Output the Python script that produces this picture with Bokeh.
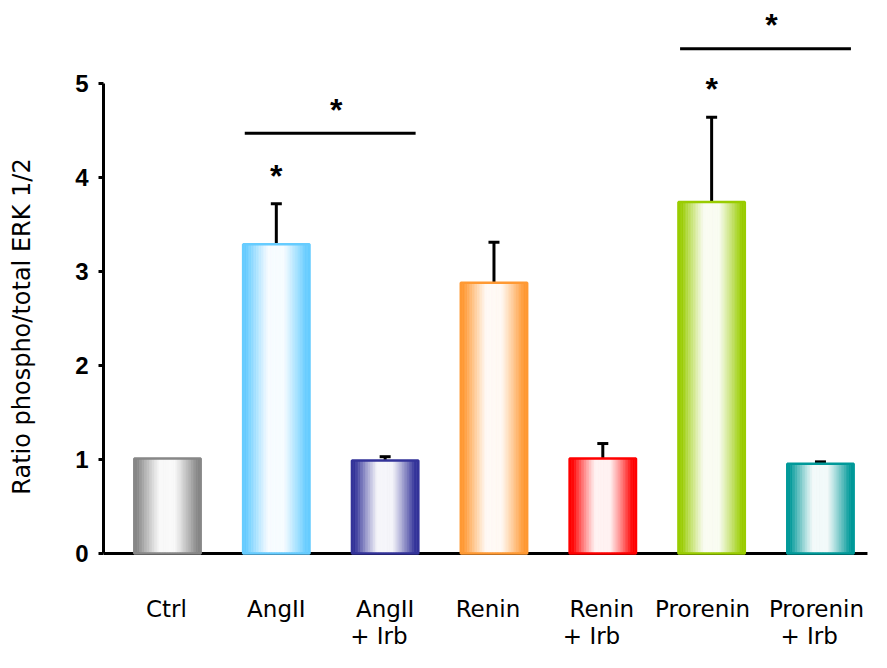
import numpy as np
from bokeh.plotting import figure
from bokeh.models import (Range1d, FixedTicker, ColumnDataSource, Whisker,
                          TeeHead, LabelSet)
from bokeh.core.properties import value
from bokeh.embed import file_html
from bokeh.resources import INLINE

# ---------------- data ----------------
categories = ["Ctrl", "AngII", "AngII + Irb", "Renin", "Renin + Irb",
              "Prorenin", "Prorenin + Irb"]
label_line1 = ["Ctrl", "AngII", "AngII", "Renin", "Renin", "Prorenin", "Prorenin"]
label_line2 = ["", "", "+ Irb", "", "+ Irb", "", "+ Irb"]
means = [1.01, 3.29, 0.99, 2.88, 1.01, 3.74, 0.955]
upper_err = [1.01, 3.72, 1.03, 3.31, 1.17, 4.64, 0.975]
colors = ["#878787", "#66CCFF", "#333399", "#FF9933", "#FF0000", "#99CC00", "#009999"]
y_ticks = [0, 1, 2, 3, 4, 5]
star_over = [1, 5]                      # significant vs control
brackets = [(1, 2, 4.47), (5, 6, 5.37)]  # significant pairs and bracket height

# ---------------- figure ----------------
W, H = 871, 652
X0, X1 = -0.588, 6.469
p = figure(width=W, height=H, output_backend="svg", toolbar_location=None,
           x_range=Range1d(X0, X1), y_range=Range1d(-1.053, 5.883),
           x_axis_location=None, min_border=0, min_border_left=103)
p.outline_line_color = None
p.xgrid.visible = False
p.ygrid.visible = False
p.background_fill_color = "white"

# y axis
p.yaxis.ticker = FixedTicker(ticks=y_ticks)
p.yaxis.bounds = (0, 5)
p.yaxis.axis_line_width = 3
p.yaxis.major_tick_line_width = 3
p.yaxis.major_tick_in = 0
p.yaxis.major_tick_out = 5
p.yaxis.minor_tick_line_color = None
p.yaxis.major_label_text_font = "Liberation Sans"
p.yaxis.major_label_text_font_style = "bold"
p.yaxis.major_label_text_font_size = "24px"
p.yaxis.major_label_text_color = "black"
p.yaxis.major_label_standoff = 10
p.yaxis.axis_label = "Ratio phospho/total ERK 1/2"
p.yaxis.axis_label_text_font = "DejaVu Sans"
p.yaxis.axis_label_text_font_style = "normal"
p.yaxis.axis_label_text_font_size = "24px"
p.yaxis.axis_label_text_color = "black"
p.yaxis.axis_label_standoff = 36

# x axis line (baseline at 0)
p.segment(x0=[X0], x1=[len(categories) - 1 + 0.432], y0=[0], y1=[0],
          line_width=3, line_color="black")

# ---------------- gradient bars ----------------
def hex2rgb(h):
    h = h.lstrip("#")
    return tuple(int(h[i:i + 2], 16) for i in (0, 2, 4))

N = 40
bw = 0.61
sx, stop, scol = [], [], []
for i, (m, c) in enumerate(zip(means, colors)):
    r, g, b = hex2rgb(c)
    for k in range(N):
        u = (k + 0.5) / N - 0.5
        t = abs(u) * 2
        s = min(max((t - 0.22) / 0.68, 0.0), 1.0)
        f = 0.05 + 0.95 * s ** 1.1
        rr = int(round(255 + (r - 255) * f))
        gg = int(round(255 + (g - 255) * f))
        bb = int(round(255 + (b - 255) * f))
        sx.append(i + u * bw)
        stop.append(m)
        scol.append("#%02x%02x%02x" % (rr, gg, bb))

p.vbar(x=sx, top=stop, bottom=0, width=bw / N, fill_color=scol,
       line_color=scol, line_width=0.6)
p.vbar(x=list(range(len(means))), top=means, bottom=0, width=bw,
       fill_color=None, line_color=colors, line_width=2.5)

# ---------------- error bars ----------------
idx = [i for i in range(len(means)) if upper_err[i] > means[i]]
err_src = ColumnDataSource(dict(x=idx, lo=[means[i] for i in idx],
                                hi=[upper_err[i] for i in idx]))
p.add_layout(Whisker(base="x", lower="lo", upper="hi", source=err_src,
                     line_width=3, line_color="black", lower_head=None,
                     upper_head=TeeHead(size=11, line_width=3, line_color="black")))

# ---------------- significance ----------------
star_font = value("Liberation Sans")
p.text(x=star_over, y=[upper_err[i] + 0.30 for i in star_over], text=["*"] * len(star_over),
       text_font=star_font, text_font_style="bold", text_font_size="32px",
       text_align="center", text_baseline="middle", text_color="black")

p.segment(x0=[a - 0.29 for a, b_, h in brackets], x1=[b_ + 0.28 for a, b_, h in brackets],
          y0=[h for a, b_, h in brackets], y1=[h for a, b_, h in brackets],
          line_width=3, line_color="black")
p.text(x=[(a + b_) / 2 + 0.05 for a, b_, h in brackets], y=[h + 0.25 for a, b_, h in brackets],
       text=["*"] * len(brackets), text_font=star_font, text_font_style="bold",
       text_font_size="32px", text_align="center", text_baseline="middle",
       text_color="black")

# ---------------- category labels ----------------
lab_font = value("DejaVu Sans")
dx1 = [-1, 0, 0, -6, -1, -9, -4]
lab1 = ColumnDataSource(dict(x=list(range(len(categories))), y=[-0.68] * len(categories),
                             text=label_line1, dx=dx1))
p.add_layout(LabelSet(x="x", y="y", text="text", x_offset="dx", source=lab1,
                      text_font=lab_font, text_font_size=value("23px"),
                      text_align="center", text_baseline="alphabetic",
                      text_color="black"))
i2 = [i for i in range(len(categories)) if label_line2[i]]
dx2 = {2: -35, 4: -40, 6: -40}
lab2 = ColumnDataSource(dict(x=i2, y=[-0.96] * len(i2),
                             text=[label_line2[i] for i in i2],
                             dx=[dx2[i] for i in i2]))
p.add_layout(LabelSet(x="x", y="y", text="text", x_offset="dx", source=lab2,
                      text_font=lab_font, text_font_size=value("23px"),
                      text_align="left", text_baseline="alphabetic",
                      text_color="black"))

open("out.html", "w").write(file_html(p, INLINE))
